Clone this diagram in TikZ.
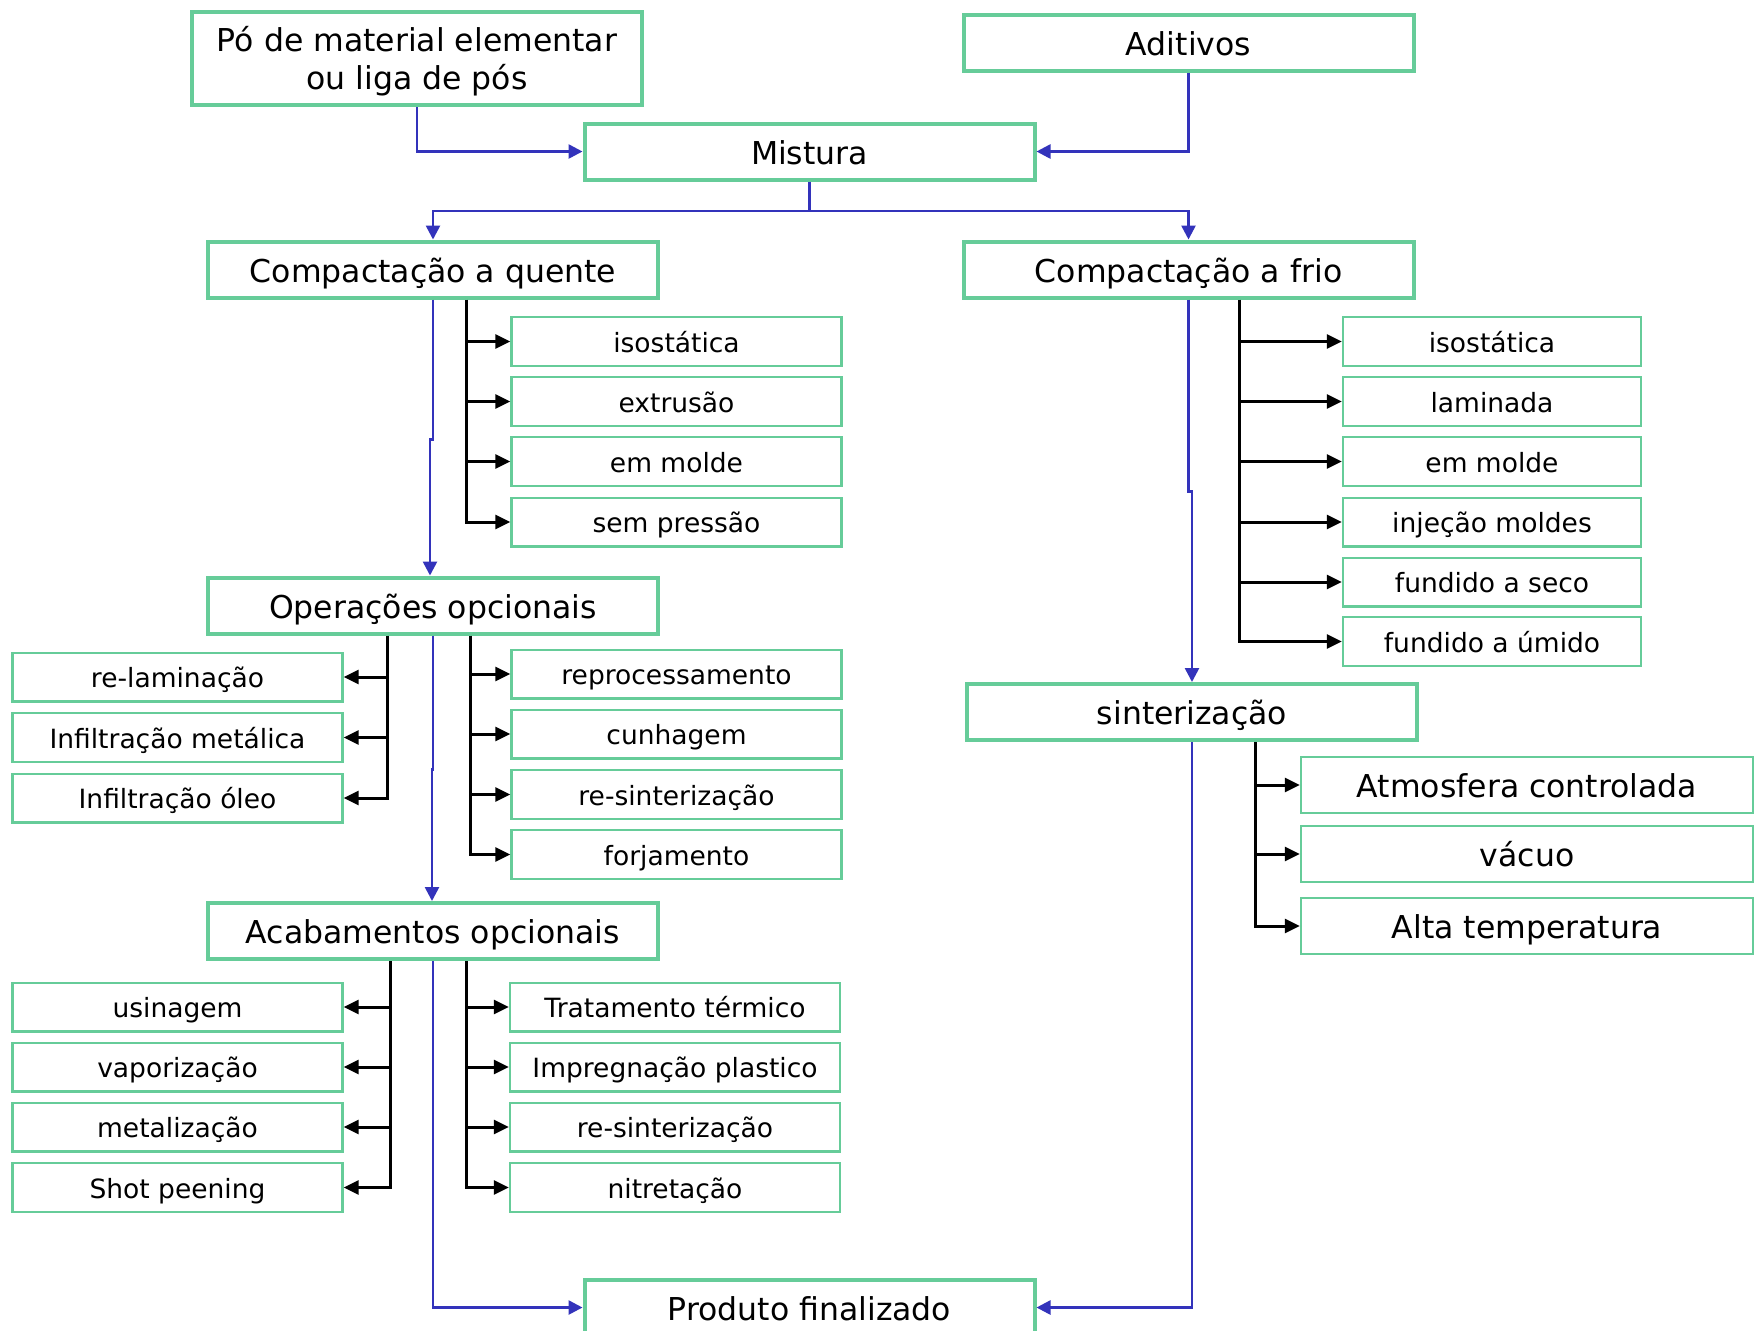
\documentclass[tikz,border=0pt]{standalone}
\usepackage{fontspec}
\setmainfont{DejaVu Sans}
\usetikzlibrary{arrows.meta}
\definecolor{bgreen}{RGB}{102,204,153}
\definecolor{lblue}{RGB}{51,51,187}
\begin{document}
\begin{tikzpicture}[x=0.5pt,y=-0.5pt,
  mainbox/.style={draw=bgreen, line width=2pt, inner sep=0pt, minimum width=225pt, minimum height=28pt, align=center, font=\fontsize{15.75}{19}\selectfont, text height=15.75pt, text depth=3.15pt},
  pobox/.style={draw=bgreen, line width=2pt, inner sep=0pt, minimum width=225pt, minimum height=46.5pt, align=center, font=\fontsize{15.75}{19}\selectfont},
  subbox/.style={draw=bgreen, line width=1.2pt, inner sep=0pt, minimum width=165pt, minimum height=24.3pt, font=\fontsize{13.25}{16}\selectfont, text height=13.25pt, text depth=2.65pt},
  frbox/.style={subbox, minimum width=149pt},
  sibox/.style={subbox, minimum width=226pt, minimum height=28pt, font=\fontsize{15.75}{19}\selectfont, text height=15.75pt, text depth=3.15pt},
  bl/.style={draw=lblue, line width=1.3pt},
  blarr/.style={bl, -{Triangle[length=7pt,width=7pt]}},
  bk/.style={draw=black, line width=1.5pt},
  bkarr/.style={bk, -{Triangle[length=7.5pt,width=7pt]}}
]
\path[use as bounding box, fill=white] (0,0) rectangle (1762,1330);

% main boxes
\node[pobox] (po) at (417,58.5) {\rule{0pt}{15pt}Pó de material elementar\\ou liga de pós};
\node[mainbox] (aditivos) at (1188.5,42.5) {Aditivos};
\node[mainbox] (mistura) at (809.5,151.5) {Mistura};
\node[mainbox] (quente) at (433,269.5) {Compactação a quente};
\node[mainbox] (frio) at (1188.5,269.5) {Compactação a frio};
\node[mainbox] (oper) at (433,605.5) {Operações opcionais};
\node[mainbox] (acab) at (433,931) {Acabamentos opcionais};
\node[mainbox] (sint) at (1192,712) {sinterização};
\node[mainbox] (prod) at (809.5,1307.5) {Produto finalizado};

% quente subs
\node[subbox] (q1) at (676.5,341.5) {isostática};
\node[subbox] (q2) at (676.5,401.5) {extrusão};
\node[subbox] (q3) at (676.5,461.5) {em molde};
\node[subbox] (q4) at (676.5,522) {sem pressão};

% frio subs
\node[frbox] (f1) at (1492,341.5) {isostática};
\node[frbox] (f2) at (1492,401.5) {laminada};
\node[frbox] (f3) at (1492,461.5) {em molde};
\node[frbox] (f4) at (1492,522) {injeção moldes};
\node[frbox] (f5) at (1492,582) {fundido a seco};
\node[frbox] (f6) at (1492,641.5) {fundido a úmido};

% operacoes subs
\node[subbox] (ol1) at (177.5,677) {re-laminação};
\node[subbox] (ol2) at (177.5,737.5) {Infiltração metálica};
\node[subbox] (ol3) at (177.5,798) {Infiltração óleo};
\node[subbox] (or1) at (676.5,674) {reprocessamento};
\node[subbox] (or2) at (676.5,734) {cunhagem};
\node[subbox] (or3) at (676.5,794.5) {re-sinterização};
\node[subbox] (or4) at (676.5,854.5) {forjamento};

% acabamentos subs
\node[subbox] (al1) at (177.5,1007) {usinagem};
\node[subbox] (al2) at (177.5,1067) {vaporização};
\node[subbox] (al3) at (177.5,1127) {metalização};
\node[subbox] (al4) at (177.5,1187.5) {Shot peening};
\node[subbox] (ar1) at (675,1007) {Tratamento térmico};
\node[subbox] (ar2) at (675,1067) {Impregnação plastico};
\node[subbox] (ar3) at (675,1127) {re-sinterização};
\node[subbox] (ar4) at (675,1187.5) {nitretação};

% sinterizacao subs
\node[sibox] (s1) at (1527,785) {Atmosfera controlada};
\node[sibox] (s2) at (1527,854) {vácuo};
\node[sibox] (s3) at (1527,926) {Alta temperatura};

% spine coordinates
\coordinate (qsp) at (466,0);
\coordinate (fsp) at (1239,0);
\coordinate (olsp) at (387,0);
\coordinate (orsp) at (470,0);
\coordinate (alsp) at (390,0);
\coordinate (arsp) at (466,0);
\coordinate (ssp) at (1255,0);
\coordinate (split) at (809.5,211);

% blue flow
\draw[blarr] (po.south) |- (mistura.west);
\draw[blarr] (aditivos.south) |- (mistura.east);
\draw[bl] (mistura.south) -- (split);
\draw[blarr] (split) -| (quente.north);
\draw[blarr] (split) -| (frio.north);
\draw[blarr] (quente.south) -- ++(0,140) -| ([xshift=-1.5pt]oper.north);
\draw[blarr] (oper.south) -- ++(0,134) -| ([xshift=-0.5pt]acab.north);
\draw[blarr] (acab.south) |- (prod.west);
\draw[blarr] (frio.south) -- ++(0,192) -| (sint.north);
\draw[blarr] (sint.south) |- (prod.east);

% black branches: quente
\draw[bkarr] (quente.south -| qsp) |- (q4.west);
\foreach \n in {q1,q2,q3} \draw[bkarr] (qsp |- \n.west) -- (\n.west);
% frio
\draw[bkarr] (frio.south -| fsp) |- (f6.west);
\foreach \n in {f1,f2,f3,f4,f5} \draw[bkarr] (fsp |- \n.west) -- (\n.west);
% operacoes
\draw[bkarr] (oper.south -| olsp) |- (ol3.east);
\foreach \n in {ol1,ol2} \draw[bkarr] (olsp |- \n.east) -- (\n.east);
\draw[bkarr] (oper.south -| orsp) |- (or4.west);
\foreach \n in {or1,or2,or3} \draw[bkarr] (orsp |- \n.west) -- (\n.west);
% acabamentos
\draw[bkarr] (acab.south -| alsp) |- (al4.east);
\foreach \n in {al1,al2,al3} \draw[bkarr] (alsp |- \n.east) -- (\n.east);
\draw[bkarr] (acab.south -| arsp) |- (ar4.west);
\foreach \n in {ar1,ar2,ar3} \draw[bkarr] (arsp |- \n.west) -- (\n.west);
% sinterizacao
\draw[bkarr] (sint.south -| ssp) |- (s3.west);
\foreach \n in {s1,s2} \draw[bkarr] (ssp |- \n.west) -- (\n.west);
\end{tikzpicture}
\end{document}
